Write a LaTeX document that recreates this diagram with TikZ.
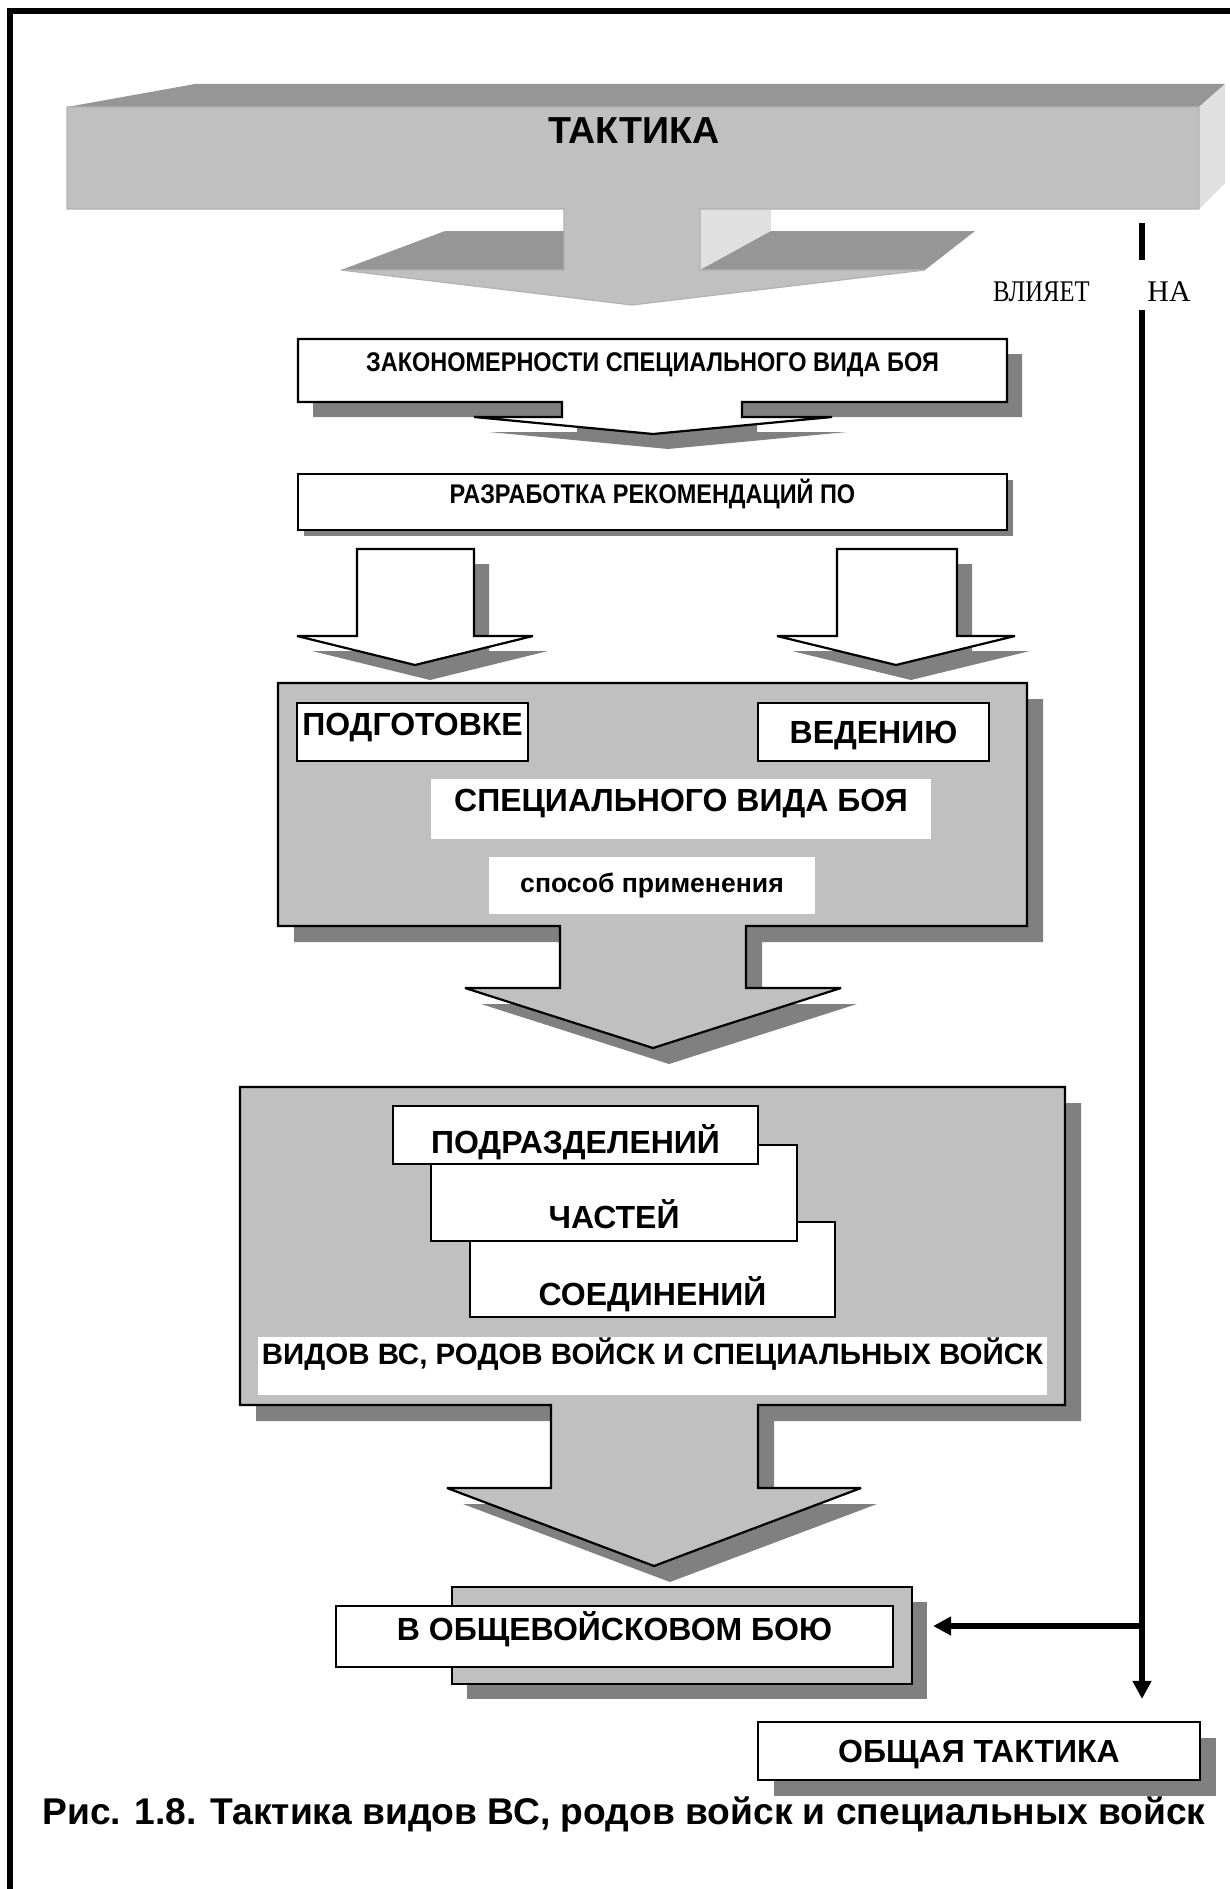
\documentclass[tikz,border=0pt]{standalone}
\usepackage{fontspec}
\setmainfont{Liberation Sans}
\newfontfamily\timesfont{Liberation Serif}
\newfontfamily\narrowtimes[FakeStretch=0.82]{Liberation Serif}
\newfontfamily\narrowsans[FakeStretch=0.87]{Liberation Sans}
\usetikzlibrary{arrows.meta,shadows}

\definecolor{barfront}{HTML}{C0C0C0}
\definecolor{bartop}{HTML}{969696}
\definecolor{barside}{HTML}{E0E0E0}
\definecolor{shadowgrey}{HTML}{808080}
\definecolor{panelgrey}{HTML}{C0C0C0}

\tikzset{
    sz/.style 2 args={minimum width=#1*0.5pt, minimum height=#2*0.5pt},
    dshadow/.style={drop shadow={shadow xshift=#1, shadow yshift=-#1, fill=shadowgrey, opacity=1}},
    dshadow/.default=7.5pt,
    bigtext/.style={font=\bfseries\fontsize{16}{19}\selectfont, text height=11.5pt, text depth=0pt},
    smalltext/.style={font=\narrowsans\bfseries\fontsize{13.5}{16}\selectfont, text height=9.7pt, text depth=0pt},
    whitebox/.style={draw=black, fill=white, line width=1.1pt, inner sep=0pt, bigtext},
    plainbox/.style={fill=white, inner sep=0pt, bigtext},
    panel/.style={draw=black, fill=panelgrey, line width=1.1pt, inner sep=0pt},
    calloutpath/.style={draw=black, line width=1.1pt, line join=miter, miter limit=3},
    link/.style={line width=3pt, -{Triangle[length=9pt,width=9pt]}},
}

\begin{document}
\begin{tikzpicture}[x=0.5pt, y=-0.5pt]

\def\lw{1.1pt}

\useasboundingbox (0,0) rectangle (1230,1889);

% frame
\draw[line width=3pt] (10,1889) -- (10,11.5) -- (1230,11.5);

% 3d bar with arrow
\fill[bartop] (67,107) -- (195,84) -- (1225,84) -- (1199,107) -- cycle;
\fill[barside] (1199,107) -- (1225,84) -- (1225,183) -- (1199,209) -- cycle;
\fill[barside] (700,209) -- (771,209) -- (771,231) -- (700,270) -- cycle;
\fill[bartop] (341,270) -- (445,231) -- (564,231) -- (564,270) -- cycle;
\fill[bartop] (700,270) -- (771,231) -- (975,231) -- (925,270) -- cycle;
\filldraw[fill=barfront, draw=gray!60, line width=0.6pt] (67,107) -- (1199,107) -- (1199,209)
    -- (700,209) -- (700,270) -- (925,270) -- (632,305) -- (341,270) -- (564,270) -- (564,209)
    -- (67,209) -- cycle;
\node[font=\bfseries\fontsize{18.8}{22}\selectfont, anchor=base, inner sep=0pt] (takt) at (634,143) {ТАКТИКА};

% laws
\filldraw[calloutpath, fill=white, dshadow] (298,339) -- (1007,339) -- (1007,402) -- (742,402)
    -- (742,417) -- (832,417) -- (653,434) -- (474,417) -- (562,417) -- (562,402) -- (298,402) -- cycle;
\node[inner sep=0pt, smalltext, sz={709}{63}, text depth=9pt] (zakon) at (652.5,370.5) {ЗАКОНОМЕРНОСТИ СПЕЦИАЛЬНОГО ВИДА БОЯ};

\node[whitebox, smalltext, sz={709}{56}, text depth=8pt, dshadow=3pt] (razrab) at (652.5,502) {РАЗРАБОТКА РЕКОМЕНДАЦИЙ ПО};

\filldraw[calloutpath, fill=white, dshadow] (357,549) -- (474,549) -- (474,636) -- (533,636)
    -- (415,665) -- (297,636) -- (357,636) -- cycle;
\filldraw[calloutpath, fill=white, dshadow] (837,549) -- (957,549) -- (957,636) -- (1015,636)
    -- (896,665) -- (777,636) -- (837,636) -- cycle;

% special kind of combat
\filldraw[calloutpath, fill=panelgrey, dshadow=8pt] (278,683) -- (1027,683) -- (1027,926) -- (746,926)
    -- (746,988) -- (841,988) -- (653,1048) -- (465,988) -- (560,988) -- (560,926) -- (278,926) -- cycle;
\node[whitebox, sz={231}{58}, text depth=8pt] (podg) at (412.5,732) {ПОДГОТОВКЕ};
\node[whitebox, sz={231}{58}] (ved) at (873.5,732) {ВЕДЕНИЮ};
\node[plainbox, sz={500}{60}, text depth=9pt] (specvid) at (681,809) {СПЕЦИАЛЬНОГО ВИДА БОЯ};
\node[plainbox, sz={326}{57}, font=\bfseries\fontsize{13.3}{16}\selectfont, text height=6.9pt] (sposob) at (652,885.5) {способ применения};

% units
\filldraw[calloutpath, fill=panelgrey, dshadow=8pt] (240,1087) -- (1065,1087) -- (1065,1405) -- (758,1405)
    -- (758,1488) -- (861,1488) -- (654,1566) -- (447,1488) -- (551,1488) -- (551,1405) -- (240,1405) -- cycle;
\node[whitebox, sz={365}{95}, text height=36pt] (soed) at (652.5,1269.5) {СОЕДИНЕНИЙ};
\node[whitebox, sz={366}{96}, text height=35pt] (chast) at (614,1193) {ЧАСТЕЙ};
\node[whitebox, sz={365}{58}, text height=18.5pt] (podr) at (575.5,1135) {ПОДРАЗДЕЛЕНИЙ};
\node[plainbox, sz={789}{58}, font=\bfseries\fontsize{14.75}{17}\selectfont, text height=10.6pt, text depth=12pt] (vidov) at (652.5,1366) {ВИДОВ ВС, РОДОВ ВОЙСК И СПЕЦИАЛЬНЫХ ВОЙСК};

\node[panel, sz={460}{97}, dshadow] (vobshback) at (682,1635.5) {};
\node[whitebox, sz={557}{61}, text depth=8pt] (vobsh) at (614.5,1636.5) {В ОБЩЕВОЙСКОВОМ БОЮ};

\node[whitebox, sz={442}{58}, dshadow=8pt] (obshch) at (979,1751) {ОБЩАЯ ТАКТИКА};

% influence
\coordinate (infl top) at (1142,223);
\coordinate (infl mid) at (1142,260);
\coordinate (infl low) at (1142,310);
\coordinate (infl fork) at (1142,1626);
\draw[line width=3pt] (infl top) -- (infl mid);
\node[font=\narrowtimes\fontsize{15}{18}\selectfont, anchor=base east, inner sep=0pt] (vliyaet) at (1090,301) {ВЛИЯЕТ};
\node[font=\timesfont\fontsize{15}{18}\selectfont, anchor=base west, inner sep=0pt] (na) at (1147,301) {НА};
\draw[link, shorten >=11pt] (infl low) -- (infl low |- obshch.north);
\draw[link, shorten >=10pt] (infl fork) -- (infl fork -| vobshback.east);

\node[font=\bfseries\fontsize{18.6}{22}\selectfont, anchor=base west, inner sep=0pt] (caption) at (42,1824) {Рис. 1.8. Тактика видов ВС, родов войск и специальных войск};

\end{tikzpicture}
\end{document}
